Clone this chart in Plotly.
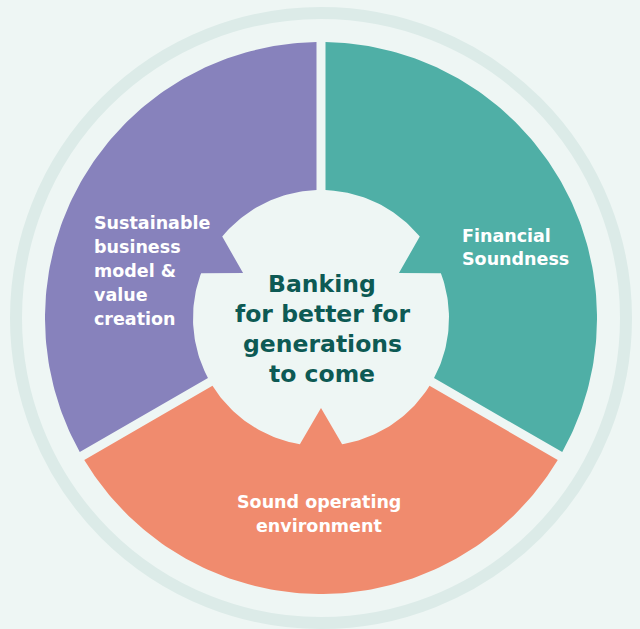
import numpy as np
import plotly.graph_objects as go

# Three pillars of the strategy wheel, clockwise from the top
pillars = ["Financial Soundness", "Sound operating environment",
           "Sustainable business model & value creation"]
pillar_lines = [["Financial", "Soundness"],
                ["Sound operating", "environment"],
                ["Sustainable", "business", "model &", "value", "creation"]]
shares = [1, 1, 1]
colors = ["#4FAFA6", "#F08B6E", "#8782BC"]
center_lines = ["Banking", "for better for", "generations", "to come"]

# Geometry (pixel units, centre of the wheel at the origin)
CX, CY = 321, 318   # wheel centre in page pixels
R_OUT = 276
R_IN = 128
R_TIP = 90          # inner point of each segment's arrow tooth
TOOTH_HALF = 9.5    # half-angle of the tooth base, degrees
GAP = 4.5           # half-width of the straight gaps between segments
RING_R = 305
BG = "#EEF6F4"
FONT = "DejaVu Sans"


def arc(r, a0, a1, n=120):
    t = np.radians(np.linspace(a0, a1, n))
    return r * np.cos(t), r * np.sin(t)


def segment(a_start, a_end):
    do = np.degrees(np.arcsin(GAP / R_OUT))
    di = np.degrees(np.arcsin(GAP / R_IN))
    mid = (a_start + a_end) / 2
    xs, ys = [], []
    x, y = arc(R_OUT, a_start - do, a_end + do)
    xs += list(x); ys += list(y)
    x, y = arc(R_IN, a_end + di, mid - TOOTH_HALF, 40)
    xs += list(x); ys += list(y)
    xs.append(R_TIP * np.cos(np.radians(mid)))
    ys.append(R_TIP * np.sin(np.radians(mid)))
    x, y = arc(R_IN, mid + TOOTH_HALF, a_start - di, 40)
    xs += list(x); ys += list(y)
    xs.append(xs[0]); ys.append(ys[0])
    return xs, ys


def add_lines(fig, lines, x_px, base_px, step, size, color, xanchor):
    # place each text line by its baseline (page pixels)
    for i, line in enumerate(lines):
        mid_px = base_px + i * step - 0.346 * size
        fig.add_annotation(x=x_px - CX, y=CY - mid_px, text=line,
                           showarrow=False, xanchor=xanchor,
                           yanchor="middle",
                           font=dict(family=FONT, size=size, color=color,
                                     weight="bold"))


fig = go.Figure()

# outer decorative ring
fig.add_shape(type="circle", xref="x", yref="y",
              x0=-RING_R, x1=RING_R, y0=-RING_R, y1=RING_R,
              line=dict(color="#DCEBE8", width=12), layer="below")

total = sum(shares)
start = 90.0
for name, share, col in zip(pillars, shares, colors):
    end = start - 360.0 * share / total
    sx, sy = segment(start, end)
    fig.add_trace(go.Scatter(x=sx, y=sy, mode="lines", fill="toself",
                             fillcolor=col, line=dict(width=0, color=col),
                             name=name, hoverinfo="name", showlegend=False))
    start = end

# label placement: (x, first baseline, line step, anchor), page pixels
label_pos = [(460, 241.7, 23.8, "left"),
             (319, 508.3, 24.2, "center"),
             (91.5, 229.3, 24.0, "left")]
for lines, (lx, lb, st, xa) in zip(pillar_lines, label_pos):
    add_lines(fig, lines, lx, lb, st, 17.5, "white", xa)

add_lines(fig, center_lines, 322, 291.7, 30.0, 23.5, "#0D5A54", "center")

fig.update_xaxes(range=[-CX, 640 - CX], visible=False, fixedrange=True)
fig.update_yaxes(range=[CY - 629, CY], visible=False, fixedrange=True)
fig.update_layout(width=640, height=629, margin=dict(l=0, r=0, t=0, b=0),
                  paper_bgcolor=BG, plot_bgcolor=BG, showlegend=False)

fig.write_html("out.html")
